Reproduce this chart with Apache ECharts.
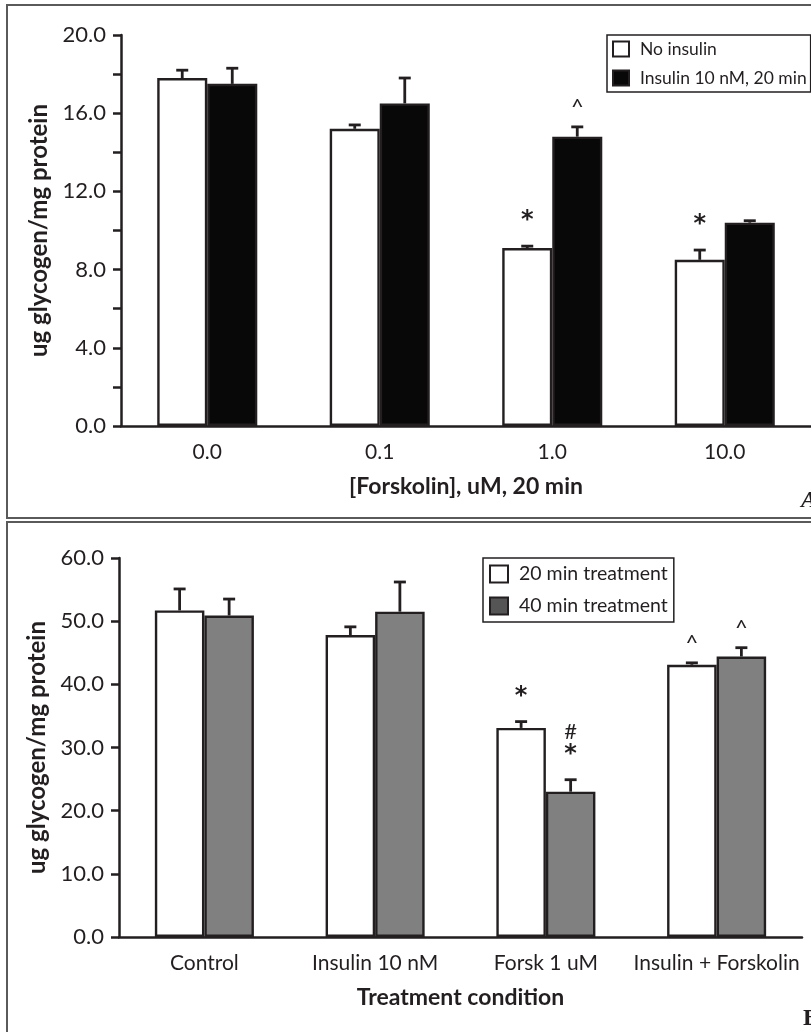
<!DOCTYPE html>
<html><head><meta charset="utf-8">
<script src="https://cdn.jsdelivr.net/npm/echarts@6/dist/echarts.min.js"></script>
<style>html,body{margin:0;padding:0;background:#fff}#c{width:811px;height:1032px}</style>
</head><body><div id="c"></div>
<script>
// ---- Panel A data ----
const catsA = ['0.0', '0.1', '1.0', '10.0'];
const noInsulin = [17.8, 15.2, 9.1, 8.5];
const noInsulinErr = [0.4, 0.2, 0.1, 0.5];
const insulin = [17.5, 16.5, 14.8, 10.4];
const insulinErr = [0.8, 1.3, 0.5, 0.1];
const noInsulinMarks = ['', '', '*', '*'];
const insulinMarks = ['', '', '^', ''];
const yTicksA = [0, 4, 8, 12, 16, 20];

// ---- Panel B data ----
const catsB = ['Control', 'Insulin 10 nM', 'Forsk 1 uM', 'Insulin + Forskolin'];
const t20 = [51.7, 47.8, 33.1, 43.1];
const t20Err = [3.4, 1.3, 1.0, 0.3];
const t40 = [50.9, 51.5, 23.0, 44.4];
const t40Err = [2.6, 4.7, 1.9, 1.4];
const t20Marks = ['', '', '*', '^'];
const t40Marks = ['', '', '#\n*', '^'];
const yTicksB = [0, 10, 20, 30, 40, 50, 60];

const FONT = 'Lato';
const ink = '#231f20';
const GAP = 0.42;

function errSeries(xi, yi, vals, errs, marks, side) {
  return {
    type: 'custom', xAxisIndex: xi, yAxisIndex: yi, z: 10, silent: true,
    data: vals.map((v, i) => [i, v, errs[i]]),
    renderItem: function (params, api) {
      const i = api.value(0), v = api.value(1), e = api.value(2);
      const band = api.size([1, 0])[0];
      const bw = band * (1 - GAP) / 2;
      const p0 = api.coord([i, v]);
      const p1 = api.coord([i, v + e]);
      const cx = p0[0] + side * bw / 2;
      const st = { stroke: ink, lineWidth: 2.8 };
      const children = [
        { type: 'line', shape: { x1: cx, y1: p0[1], x2: cx, y2: p1[1] }, style: st },
        { type: 'line', shape: { x1: cx - 6, y1: p1[1], x2: cx + 6, y2: p1[1] }, style: st }
      ];
      const m = marks[params.dataIndex];
      if (m) {
        const lines = m.split('\n');
        lines.forEach((t, k) => {
          const off = (t === '^' ? 20 : 25) + (lines.length - 1 - k) * 23;
          const font = t === '*' ? 'bold 24px "DejaVu Sans"' : '22px ' + FONT;
          children.push({ type: 'text', style: { text: t, x: cx, y: p1[1] - off, align: 'center', verticalAlign: 'middle', font: font, fill: ink } });
        });
      }
      return { type: 'group', children: children };
    }
  };
}

function yAxis(gi, ticks, minor, name) {
  return {
    gridIndex: gi, type: 'value', min: ticks[0], max: ticks[ticks.length - 1], interval: ticks[1] - ticks[0],
    axisLine: { show: true, lineStyle: { color: ink, width: 2.5 } },
    axisTick: { show: true, length: 8, lineStyle: { color: ink, width: 2.5 } },
    minorTick: { show: minor, splitNumber: 2, length: 8, lineStyle: { color: ink, width: 2.5 } },
    splitLine: { show: false },
    axisLabel: { formatter: v => v.toFixed(1), fontSize: 22, margin: 15, color: ink, fontFamily: FONT },
    name: name, nameLocation: 'middle', nameGap: 63,
    nameTextStyle: { fontWeight: 'bold', fontSize: 24, color: ink, fontFamily: FONT }
  };
}
function xAxis(gi, cats, name) {
  return {
    gridIndex: gi, type: 'category', data: cats,
    axisLine: { lineStyle: { color: ink, width: 2.5 } },
    axisTick: { show: false },
    axisLabel: { color: ink, fontSize: 21, margin: 16, fontFamily: FONT, interval: 0 },
    name: name, nameLocation: 'middle', nameGap: 49,
    nameTextStyle: { fontWeight: 'bold', fontSize: 23, color: ink, fontFamily: FONT }
  };
}
function bar(name, xi, vals, color) {
  return {
    type: 'bar', name: name, xAxisIndex: xi, yAxisIndex: xi, data: vals,
    barGap: '0%', barCategoryGap: (GAP * 100) + '%',
    itemStyle: { color: color, borderColor: ink, borderWidth: 2.4 }
  };
}

const chart = echarts.init(document.getElementById('c'));
chart.setOption({
  animation: false,
  textStyle: { fontFamily: FONT },
  grid: [
    { left: 121, top: 35, width: 704, height: 391 },
    { left: 119, top: 558, width: 683, height: 379 }
  ],
  xAxis: [xAxis(0, catsA, '[Forskolin], uM, 20 min'), xAxis(1, catsB, 'Treatment condition')],
  yAxis: [yAxis(0, yTicksA, true, 'ug glycogen/mg protein'), yAxis(1, yTicksB, false, 'ug glycogen/mg protein')],
  legend: [
    {
      data: ['No insulin', 'Insulin 10 nM, 20 min'], left: 607, top: 35, orient: 'vertical',
      borderColor: ink, borderWidth: 1.5, padding: [5, 4, 5, 5], itemWidth: 16, itemHeight: 15, itemGap: 11,
      textStyle: { fontSize: 17.5, color: ink, fontFamily: FONT, padding: [0, 0, 0, 6] }, icon: 'rect'
    },
    {
      data: ['20 min treatment', { name: '40 min treatment', itemStyle: { color: '#555555' } }], left: 483, top: 558, orient: 'vertical',
      borderColor: ink, borderWidth: 1.5, padding: [6, 6, 6, 6], itemWidth: 18, itemHeight: 17, itemGap: 12,
      textStyle: { fontSize: 19.5, color: ink, fontFamily: FONT, padding: [0, 0, 0, 6] }, icon: 'rect'
    }
  ],
  graphic: [
    { type: 'rect', silent: true, shape: { x: 7, y: 5, width: 900, height: 513 }, style: { fill: 'none', stroke: '#5a5a5a', lineWidth: 2 } },
    { type: 'rect', silent: true, shape: { x: 7, y: 522, width: 900, height: 600 }, style: { fill: 'none', stroke: '#5a5a5a', lineWidth: 2 } },
    { type: 'text', silent: true, left: 801, top: 489, style: { text: 'A', font: 'italic bold 24px "Liberation Serif"', fill: ink } },
    { type: 'text', silent: true, left: 803, top: 1007, style: { text: 'B', font: 'bold 24px "Liberation Serif"', fill: ink } }
  ],
  series: [
    bar('No insulin', 0, noInsulin, '#ffffff'),
    bar('Insulin 10 nM, 20 min', 0, insulin, '#080808'),
    errSeries(0, 0, noInsulin, noInsulinErr, noInsulinMarks, -1),
    errSeries(0, 0, insulin, insulinErr, insulinMarks, 1),
    bar('20 min treatment', 1, t20, '#ffffff'),
    bar('40 min treatment', 1, t40, '#808080'),
    errSeries(1, 1, t20, t20Err, t20Marks, -1),
    errSeries(1, 1, t40, t40Err, t40Marks, 1)
  ]
});
</script></body></html>
